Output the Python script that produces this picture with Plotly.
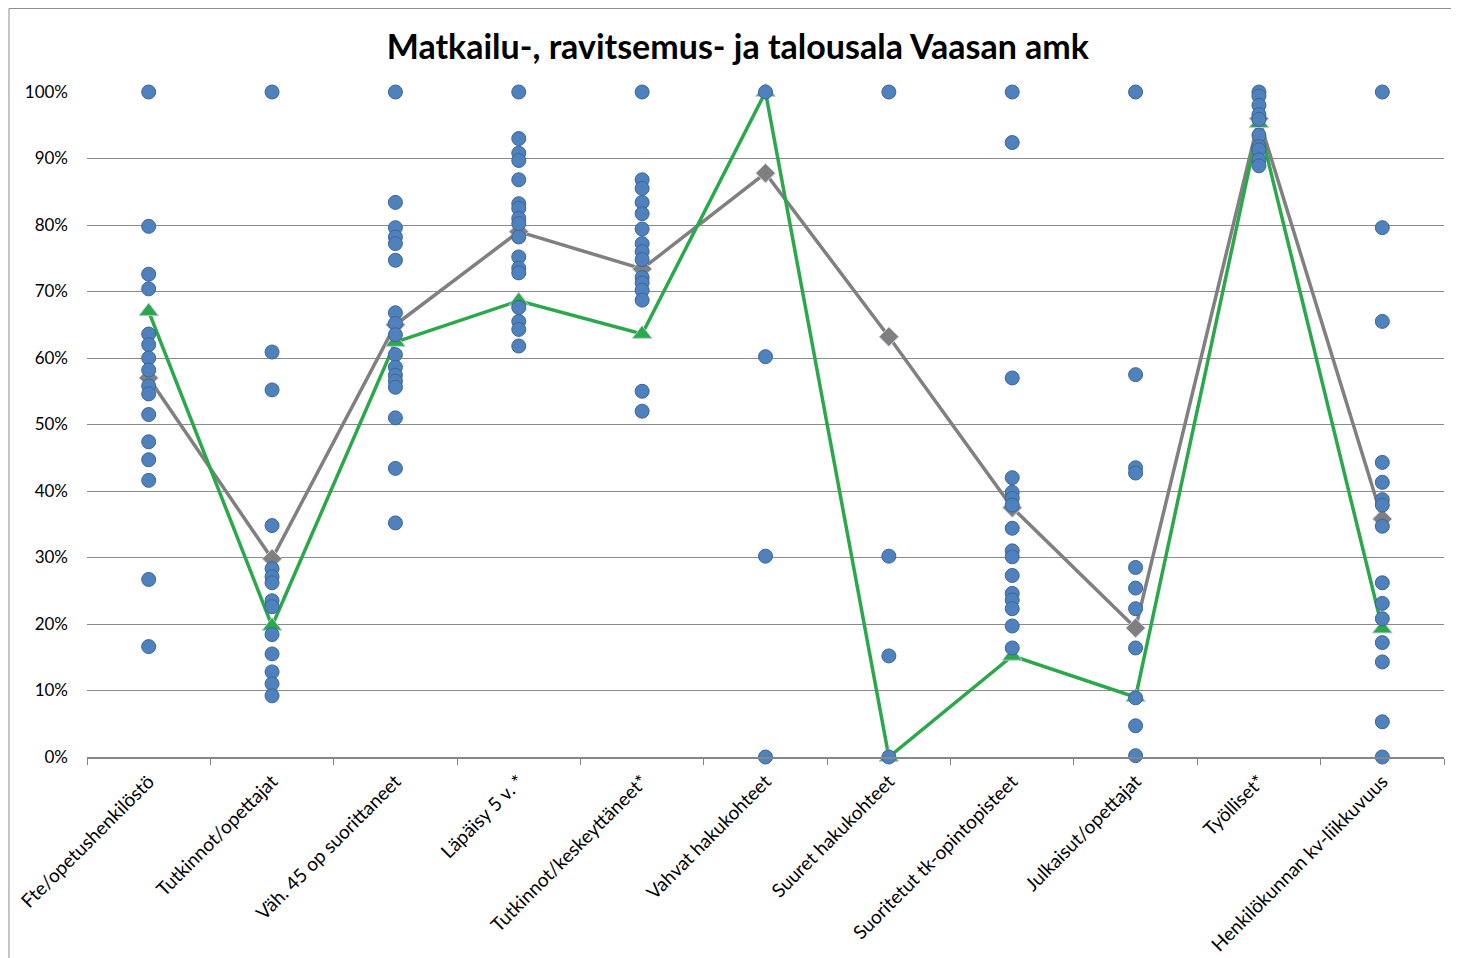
import plotly.graph_objects as go

categories = [
    "Fte/opetushenkilöstö", "Tutkinnot/opettajat", "Väh. 45 op suorittaneet",
    "Läpäisy 5 v. *", "Tutkinnot/keskeyttäneet*", "Vahvat hakukohteet",
    "Suuret hakukohteet", "Suoritetut tk-opintopisteet", "Julkaisut/opettajat",
    "Työlliset*", "Henkilökunnan kv-liikkuvuus",
]

# all universities of applied sciences (blue dots), per category
all_amk = [
    [100, 79.8, 72.6, 70.4, 63.6, 62.0, 60.0, 58.2, 55.8, 54.6, 51.5, 47.4, 44.7, 41.6, 26.7, 16.6],
    [100, 60.9, 55.2, 34.8, 28.3, 27.1, 26.2, 23.5, 22.6, 18.4, 15.5, 12.8, 11.0, 9.2],
    [100, 83.4, 79.6, 78.2, 77.2, 74.7, 66.8, 65.2, 63.5, 60.5, 58.6, 57.4, 56.5, 55.6, 51.0, 43.4, 35.2],
    [100, 93.0, 90.8, 89.7, 86.8, 83.2, 82.5, 81.0, 80.2, 78.2, 75.2, 73.5, 72.8, 67.6, 65.5, 64.3, 61.8],
    [100, 86.8, 85.5, 83.4, 81.7, 79.4, 77.2, 76.0, 74.8, 72.1, 71.3, 70.2, 68.7, 55.0, 52.0],
    [100, 60.2, 30.2, 0],
    [100, 30.2, 15.2, 0],
    [100, 92.4, 57.0, 42.0, 39.8, 38.9, 37.9, 34.4, 31.0, 30.1, 27.3, 24.6, 23.6, 22.3, 19.7, 16.4],
    [100, 57.5, 43.5, 42.7, 28.5, 25.4, 22.3, 16.4, 8.9, 4.7, 0.2],
    [100, 99.4, 98.0, 96.6, 95.9, 93.5, 91.8, 91.3, 89.8, 88.9],
    [100, 79.6, 65.5, 44.3, 41.3, 38.7, 37.9, 34.7, 26.2, 23.1, 20.8, 17.2, 14.3, 5.3, 0],
]

vaasa = [67.0, 19.7, 62.4, 68.6, 63.6, 100, 0, 15.2, 9.0, 95.3, 19.3]
average = [57.0, 29.8, 65.0, 79.0, 73.4, 87.8, 63.2, 37.5, 19.4, 96.0, 35.8]

y_ticks = list(range(0, 101, 10))
y_labels = [f"{t}%" for t in y_ticks]

dot_x = [c for c, vals in zip(categories, all_amk) for _ in vals]
dot_y = [v for vals in all_amk for v in vals]

FONT = "Lato, Open Sans, sans-serif"

fig = go.Figure()

fig.add_trace(go.Scatter(
    x=categories, y=average, name="Keskiarvo",
    mode="lines+markers",
    line=dict(color="#808080", width=3.5),
    marker=dict(symbol="diamond", size=15, color="#7f7f7f",
                line=dict(color="#c5d3e8", width=1)),
    cliponaxis=False,
))
fig.add_trace(go.Scatter(
    x=categories, y=vaasa, name="Vaasan amk",
    mode="lines+markers",
    line=dict(color="#2aa84a", width=3.5),
    marker=dict(symbol="triangle-up", size=17, color="#2aa84a",
                line=dict(color="#b9c9e0", width=1)),
    cliponaxis=False,
))
fig.add_trace(go.Scatter(
    x=dot_x, y=dot_y, name="Kaikki amk:t",
    mode="markers",
    marker=dict(symbol="circle", size=14, color="#4f81bd",
                line=dict(color="#3c659a", width=1)),
    cliponaxis=False,
))

# the page body adds an 8px margin, so the figure is 8px smaller than the window
fig.update_layout(
    width=1451, height=950,
    paper_bgcolor="white", plot_bgcolor="white",
    margin=dict(l=79, r=15, t=84, b=201),
    showlegend=False,
    font=dict(family=FONT, color="black"),
    title=dict(
        text="<b>Matkailu-, ravitsemus- ja talousala Vaasan amk</b>",
        x=0.503, xanchor="center", y=0.959, yanchor="middle",
        font=dict(size=34, family=FONT),
    ),
    shapes=[dict(
        type="rect", xref="paper", yref="paper",
        x0=-0.0575, x1=1.0103, y0=-0.35, y1=1.1256,
        line=dict(color="#8c8c8c", width=1), fillcolor="rgba(0,0,0,0)",
        layer="below",
    )],
)

fig.update_xaxes(
    type="category", categoryorder="array", categoryarray=categories,
    range=[-0.5, len(categories) - 0.5],
    tickangle=-45, tickson="boundaries", ticks="outside", ticklen=6,
    tickcolor="#868686", showline=True, linecolor="#868686", linewidth=2,
    showgrid=False, automargin=False, ticklabelstandoff=4,
    tickfont=dict(size=19, family=FONT),
)
fig.update_yaxes(
    range=[0, 100], tickmode="array", tickvals=y_ticks, ticktext=y_labels,
    showgrid=True, gridcolor="#8a8a8a", gridwidth=1,
    zeroline=False, showline=False, ticks="", automargin=False,
    ticklabelstandoff=18,
    tickfont=dict(size=17, family=FONT),
)

fig.write_html("out.html")
